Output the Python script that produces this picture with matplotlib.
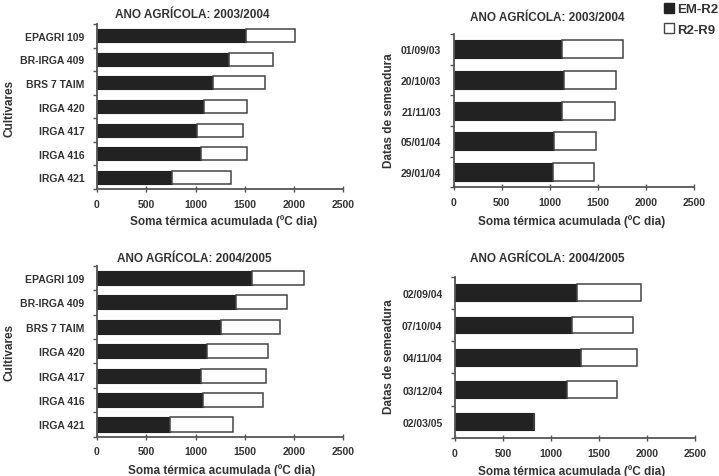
import matplotlib
matplotlib.use("Agg")
import matplotlib.pyplot as plt
from matplotlib.patches import Patch

plt.rcParams["font.family"] = ["Liberation Sans", "DejaVu Sans"]
plt.rcParams["font.weight"] = "bold"

# dados (graus-dia)
cultivares = ["EPAGRI 109", "BR-IRGA 409", "BRS 7 TAIM", "IRGA 420",
              "IRGA 417", "IRGA 416", "IRGA 421"]
datas_0304 = ["01/09/03", "20/10/03", "21/11/03", "05/01/04", "29/01/04"]
datas_0405 = ["02/09/04", "07/10/04", "04/11/04", "03/12/04", "02/03/05"]

em_r2_cult_0304 = [1512, 1336, 1181, 1086, 1018, 1052, 765]
r2_r9_cult_0304 = [497, 454, 527, 440, 467, 467, 598]
em_r2_data_0304 = [1129, 1146, 1129, 1039, 1028]
r2_r9_data_0304 = [627, 540, 543, 440, 430]
em_r2_cult_0405 = [1576, 1411, 1255, 1113, 1059, 1076, 744]
r2_r9_cult_0405 = [528, 514, 606, 626, 653, 605, 640]
em_r2_data_0405 = [1267, 1219, 1313, 1167, 823]
r2_r9_data_0405 = [671, 639, 586, 517, 0]

xticks = [0, 500, 1000, 1500, 2000, 2500]

W, H = 719, 477
cinza = "#333333"


def px_axes(fig, x0, x1, ytop, ybot):
    # posicao do eixo em pixels da imagem
    return fig.add_axes([x0 / W, 1 - ybot / H, (x1 - x0) / W, (ybot - ytop) / H])


def draw_panel(ax, labels, em, r2, bar_h):
    n = len(labels)
    pos = [n - 1 - i for i in range(n)]
    ax.barh(pos, em, height=bar_h, color="#222222", edgecolor="#222222", linewidth=0.8)
    ax.barh(pos, r2, left=em, height=bar_h, color="white", edgecolor="#444444", linewidth=1.1)
    ax.set_xlim(0, 2500)
    ax.set_ylim(-0.5, n - 0.5)
    ax.set_xticks(xticks)
    ax.set_xticklabels([str(t) for t in xticks], fontsize=7.5, color=cinza)
    ax.set_yticks(pos)
    ax.set_yticklabels(labels, fontsize=7.5, color=cinza)
    ax.set_yticks([k - 0.5 for k in range(n + 1)], minor=True)
    ax.tick_params(axis="y", which="major", length=0, pad=9)
    ax.tick_params(axis="y", which="minor", length=3, width=1, color="#555555", direction="out")
    ax.tick_params(axis="x", length=4, width=1, color="#555555", direction="inout", pad=5)
    for s in ["top", "right"]:
        ax.spines[s].set_visible(False)
    for s in ["left", "bottom"]:
        ax.spines[s].set_color("#555555")
        ax.spines[s].set_linewidth(1.3)


fig = plt.figure(figsize=(W / 100, H / 100), dpi=100)

ax1 = px_axes(fig, 97, 343.3, 25, 190)
draw_panel(ax1, cultivares, em_r2_cult_0304, r2_r9_cult_0304, 0.55)
ax2 = px_axes(fig, 453.7, 694.3, 35, 188.3)
draw_panel(ax2, datas_0304, em_r2_data_0304, r2_r9_data_0304, 0.58)
ax3 = px_axes(fig, 97, 343.3, 266.7, 437.7)
draw_panel(ax3, cultivares, em_r2_cult_0405, r2_r9_cult_0405, 0.58)
ax4 = px_axes(fig, 455, 695, 277.7, 439)
draw_panel(ax4, datas_0405, em_r2_data_0405, r2_r9_data_0405, 0.52)

# titulos, rotulos dos eixos (posicoes em pixels)
textos = [
    (192.5, 15, "ANO AGRÍCOLA: 2003/2004", 0),
    (547.5, 18, "ANO AGRÍCOLA: 2003/2004", 0),
    (194.5, 259, "ANO AGRÍCOLA: 2004/2005", 0),
    (547.8, 259, "ANO AGRÍCOLA: 2004/2005", 0),
    (224, 222, "Soma térmica acumulada (ºC dia)", 0),
    (572, 222, "Soma térmica acumulada (ºC dia)", 0),
    (222, 471, "Soma térmica acumulada (ºC dia)", 0),
    (572, 472, "Soma térmica acumulada (ºC dia)", 0),
    (10, 108, "Cultivares", 90),
    (10, 352, "Cultivares", 90),
    (389, 111, "Datas de semeadura", 90),
    (389, 357, "Datas de semeadura", 90),
]
for x, y, t, rot in textos:
    fig.text(x / W, 1 - y / H, t, ha="center", va="center", rotation=rot,
             fontsize=8.5, fontweight="bold", color=cinza)

handles = [Patch(facecolor="#222222", edgecolor="#222222", label="EM-R2"),
           Patch(facecolor="white", edgecolor="#444444", label="R2-R9")]
fig.legend(handles=handles, loc="upper left", bbox_to_anchor=(661 / W, 1 - 1 / H),
           frameon=False, fontsize=9.5, handlelength=0.8, handleheight=0.8,
           handletextpad=0.25, labelspacing=0.6, borderaxespad=0, borderpad=0.2,
           labelcolor=cinza)

fig.savefig("out.png", dpi=100)
